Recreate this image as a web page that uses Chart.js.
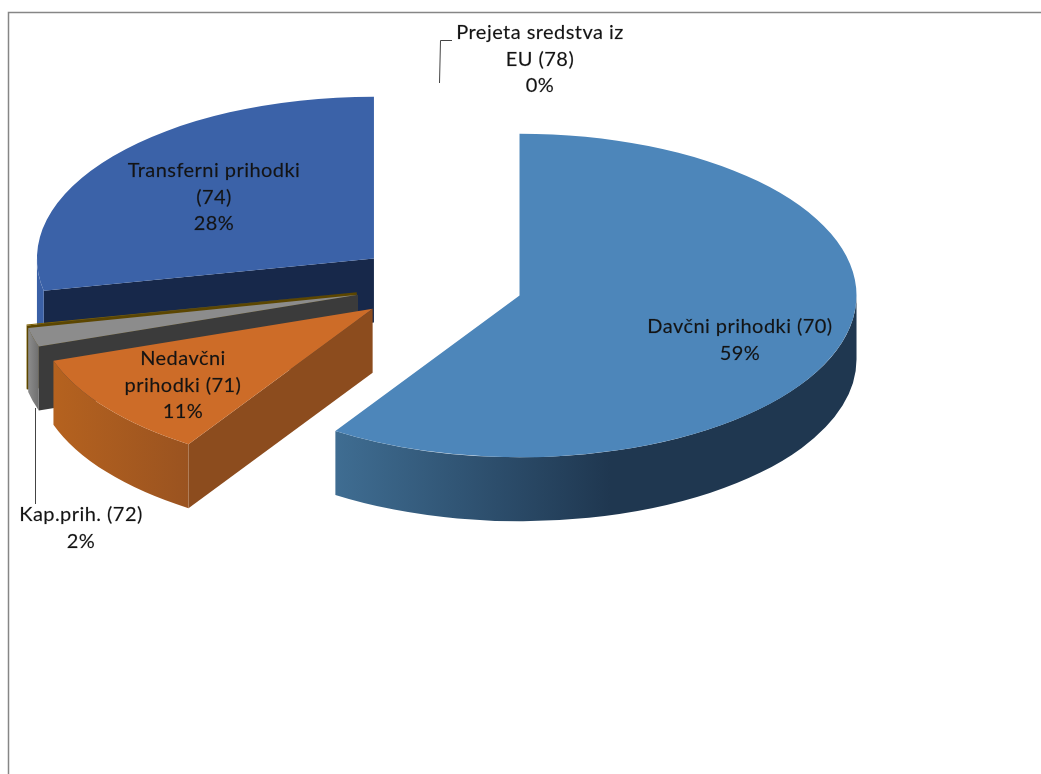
<!DOCTYPE html>
<html>
<head>
<meta charset="utf-8">
<title>Prihodki</title>
<script src="https://cdn.jsdelivr.net/npm/chart.js@4"></script>
<style>
  html, body { margin: 0; padding: 0; background: #fff; }
  canvas { display: block; }
</style>
</head>
<body>
<canvas id="pieChart" width="1041" height="774"></canvas>
<script>
// slices, clockwise from 12 o'clock
const categories = ['Davčni prihodki (70)', 'Nedavčni prihodki (71)', 'Kap.prih. (72)', 'Donacije (73)', 'Transferni prihodki (74)', 'Prejeta sredstva iz EU (78)'];
const shares = [59.2, 10.6, 1.9, 0.1, 28.2, 0];

// wrapped label lines, the thin unnamed slice has none
const labelLines = [
  ['Davčni prihodki (70)'],
  ['Nedavčni', 'prihodki (71)'],
  ['Kap.prih. (72)'],
  null,
  ['Transferni prihodki', '(74)'],
  ['Prejeta sredstva iz', 'EU (78)']
];

const topColors = ['#4d86ba', '#cd6c28', '#8c8c8c', '#7f6000', '#3b62a8', '#4f6228'];
const edgeColors = ['#1f3750', '#8c4c1e', '#3b3b3b', '#5c4600', '#17284a', '#333f1a'];
const rimStops = [
  ['#3f6d92', '#1f3750'],
  ['#b5621f', '#9a5320'],
  ['#8c8c8c', '#6f6f6f'],
  ['#7f6000', '#7f6000'],
  ['#3a60a6', '#3a60a6'],
  ['#4f6228', '#4f6228']
];

// look of the 3D pie
const TILT = 0.48;
const DEPTH = 64;
const EXPLODE = 84;
const SCREEN_Y = 284;
const FONT = '20px Lato, "Open Sans", sans-serif';
const LINE_H = 26.5;

// where each label block sits: centre x, first line y
const labelSpots = [[740, 327], [183, 359], [81, 515], null, [214, 171], [540, 33]];

function sliceOrigin(arc) {
  const mid = (arc.startAngle + arc.endAngle) / 2;
  return {
    x: arc.x + Math.cos(mid) * EXPLODE,
    y: SCREEN_Y + Math.sin(mid) * EXPLODE * TILT
  };
}

function drawEdge(ctx, o, r, angle, color) {
  const x = o.x + Math.cos(angle) * r;
  const y = o.y + Math.sin(angle) * r * TILT;
  ctx.fillStyle = color;
  ctx.beginPath();
  ctx.moveTo(o.x, o.y);
  ctx.lineTo(x, y);
  ctx.lineTo(x, y + DEPTH);
  ctx.lineTo(o.x, o.y + DEPTH);
  ctx.closePath();
  ctx.fill();
}

function drawRim(ctx, o, r, from, to, stops) {
  // only the part of the rim that faces the viewer
  const a0 = Math.max(from, 0);
  const a1 = Math.min(to, Math.PI);
  if (a1 <= a0) return;
  const x0 = o.x + Math.cos(a1) * r;
  const x1 = Math.min(o.x + Math.cos(a0) * r, x0 + 275);
  const grad = ctx.createLinearGradient(x0, 0, x1, 0);
  grad.addColorStop(0, stops[0]);
  grad.addColorStop(1, stops[1]);
  ctx.fillStyle = grad;
  ctx.beginPath();
  ctx.ellipse(o.x, o.y, r, r * TILT, 0, a0, a1);
  ctx.ellipse(o.x, o.y + DEPTH, r, r * TILT, 0, a1, a0, true);
  ctx.closePath();
  ctx.fill();
}

const pie3d = {
  id: 'pie3d',
  beforeDraw(chart) {
    const ctx = chart.ctx;
    ctx.save();
    ctx.strokeStyle = '#868686';
    ctx.lineWidth = 1.5;
    ctx.beginPath();
    ctx.moveTo(8.5, 774);
    ctx.lineTo(8.5, 12.5);
    ctx.lineTo(1041, 12.5);
    ctx.stroke();
    ctx.restore();
  },
  beforeDatasetsDraw(chart) {
    const ctx = chart.ctx;
    const arcs = chart.getDatasetMeta(0).data;
    // back to front
    [5, 4, 3, 2, 1, 0].forEach(i => {
      const arc = arcs[i];
      if (arc.circumference === 0) return;
      const o = sliceOrigin(arc);
      const r = arc.outerRadius;
      if (Math.cos(arc.startAngle) < -1e-6) drawEdge(ctx, o, r, arc.startAngle, edgeColors[i]);
      if (Math.cos(arc.endAngle) > 1e-6) drawEdge(ctx, o, r, arc.endAngle, edgeColors[i]);
      drawRim(ctx, o, r, arc.startAngle, arc.endAngle, rimStops[i]);
      ctx.save();
      ctx.translate(o.x, o.y);
      ctx.scale(1, TILT);
      ctx.translate(-arc.x, -arc.y);
      arc.draw(ctx);
      ctx.restore();
    });
    return false;
  },
  afterDraw(chart) {
    const ctx = chart.ctx;
    const total = shares.reduce((a, b) => a + b, 0);
    ctx.save();
    // leader lines
    ctx.strokeStyle = '#444';
    ctx.lineWidth = 1;
    ctx.beginPath();
    ctx.moveTo(35.5, 408);
    ctx.lineTo(35.5, 504);
    ctx.moveTo(452, 40.5);
    ctx.lineTo(440.5, 40.5);
    ctx.lineTo(439.5, 83);
    ctx.stroke();

    ctx.font = FONT;
    ctx.letterSpacing = '0.45px';
    ctx.fillStyle = '#141414';
    ctx.strokeStyle = 'rgba(20,20,20,0.35)';
    ctx.lineWidth = 0.4;
    ctx.textAlign = 'center';
    ctx.textBaseline = 'middle';
    labelLines.forEach((lines, i) => {
      if (!lines) return;
      const spot = labelSpots[i];
      const rows = lines.concat(Math.round(shares[i] / total * 100) + '%');
      rows.forEach((row, n) => {
        ctx.fillText(row, spot[0], spot[1] + n * LINE_H);
        ctx.strokeText(row, spot[0], spot[1] + n * LINE_H);
      });
    });
    ctx.restore();
  }
};

new Chart(document.getElementById('pieChart'), {
  type: 'pie',
  data: {
    labels: categories,
    datasets: [{
      data: shares,
      backgroundColor: topColors,
      borderWidth: 0
    }]
  },
  options: {
    responsive: false,
    animation: false,
    radius: 337,
    layout: { padding: { right: 163 } },
    events: [],
    plugins: {
      legend: { display: false },
      tooltip: { enabled: false }
    }
  },
  plugins: [pie3d]
});
</script>
</body>
</html>
